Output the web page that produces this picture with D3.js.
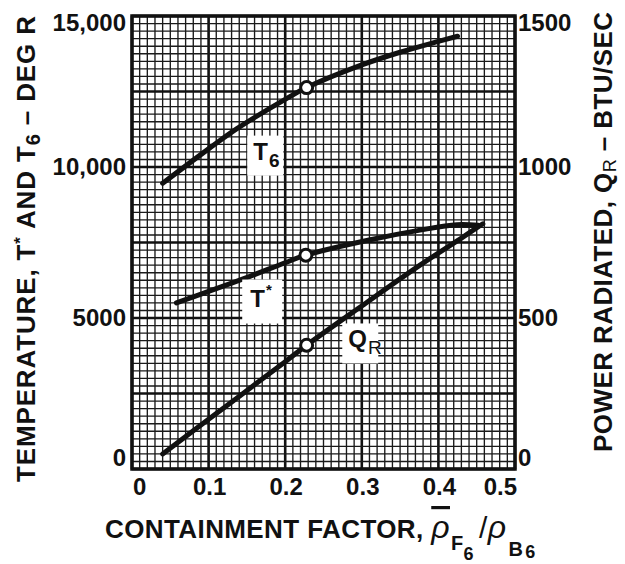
<!DOCTYPE html>
<meta charset="utf-8">
<style>

body {
  margin: 0;
  background: #fff;
}

text {
  font-family: "Liberation Sans", Arial, sans-serif;
  font-weight: bold;
  fill: #111;
}

.grid-minor {
  stroke: #1a1a1a;
  stroke-width: 1.35;
}

.grid-major {
  stroke: #111;
  stroke-width: 2.6;
}

.frame {
  fill: none;
  stroke: #111;
  stroke-width: 3.5;
}

.curve {
  fill: none;
  stroke: #111;
  stroke-width: 5;
  stroke-linecap: round;
  stroke-linejoin: round;
}

.mark {
  fill: #fff;
  stroke: #111;
  stroke-width: 3;
}

.tick-label {
  font-size: 24px;
}

</style>
<body>
<script src="https://cdn.jsdelivr.net/npm/d3@7"></script>
<script>

// containment factor vs temperature (deg R) and power radiated (btu/sec)
var xT6 = [0.04, 0.1, 0.137, 0.2, 0.228, 0.3, 0.35, 0.4, 0.425];
var t6 = [9460, 10600, 11270, 12240, 12630, 13380, 13800, 14160, 14330];

var xTstar = [0.058, 0.1, 0.154, 0.2, 0.227, 0.311, 0.376, 0.424, 0.452];
var tStar = [5500, 5880, 6380, 6830, 7080, 7590, 7910, 8090, 8070];

var xQr = [0.04, 0.1, 0.2, 0.228, 0.3, 0.376, 0.432, 0.458];
var qR = [50, 165, 355, 410, 540, 675, 768, 812];

// open circle on each curve (index into the arrays above)
var markIndex = {t6: 4, tStar: 4, qR: 3};

var xTicks = [0, 0.1, 0.2, 0.3, 0.4, 0.5];
var xTickLabels = ["0", "0.1", "0.2", "0.3", "0.4", "0.5"];
var tTicks = [0, 5000, 10000, 15000];
var tTickLabels = ["0", "5000", "10,000", "15,000"];
var qTicks = [0, 500, 1000, 1500];
var qTickLabels = ["0", "500", "1000", "1500"];

// curve name boxes, in data units (T scale)
var tagNames = ["T6", "T*", "QR"];
var tagX = [0.174, 0.170, 0.298];
var tagT = [10410, 5545, 4190];

var width = 625,
    height = 564;

var x = d3.scaleLinear()
    .domain([0, 0.5])
    .range([132, 515]);

var y = d3.scaleLinear()
    .domain([0, 15000])
    .range([469, 16]);

var yQ = d3.scaleLinear()
    .domain([0, 1500])
    .range([469, 16]);

var svg = d3.select("body").append("svg")
    .attr("width", width)
    .attr("height", height);

// graph paper
var gx = d3.range(51).map(function(i) { return i / 100; });
var gy = d3.range(61).map(function(i) { return i * 250; });

var grid = svg.append("g");

grid.selectAll(".vx")
    .data(gx)
  .enter().append("line")
    .attr("class", function(d, i) { return i % 10 ? "grid-minor" : "grid-major"; })
    .attr("x1", x).attr("x2", x)
    .attr("y1", y(15000)).attr("y2", y(0));

grid.selectAll(".hy")
    .data(gy)
  .enter().append("line")
    .attr("class", function(d, i) { return i % 10 ? "grid-minor" : "grid-major"; })
    .attr("y1", y).attr("y2", y)
    .attr("x1", x(0)).attr("x2", x(0.5));

svg.append("rect")
    .attr("class", "frame")
    .attr("x", x(0))
    .attr("y", y(15000))
    .attr("width", x(0.5) - x(0))
    .attr("height", y(0) - y(15000));

// curves
var lineT = d3.line()
    .curve(d3.curveCatmullRom.alpha(0.5))
    .x(function(d) { return x(d[0]); })
    .y(function(d) { return y(d[1]); });

var lineQ = d3.line()
    .curve(d3.curveCatmullRom.alpha(0.5))
    .x(function(d) { return x(d[0]); })
    .y(function(d) { return yQ(d[1]); });

var t6Pts = d3.zip(xT6, t6),
    tStarPts = d3.zip(xTstar, tStar),
    qRPts = d3.zip(xQr, qR);

svg.append("path").attr("class", "curve").attr("d", lineT(t6Pts));
svg.append("path").attr("class", "curve").attr("d", lineT(tStarPts));
svg.append("path").attr("class", "curve").attr("d", lineQ(qRPts));

var marks = [
  [x(t6Pts[markIndex.t6][0]), y(t6Pts[markIndex.t6][1])],
  [x(tStarPts[markIndex.tStar][0]), y(tStarPts[markIndex.tStar][1])],
  [x(qRPts[markIndex.qR][0]), yQ(qRPts[markIndex.qR][1])]
];

svg.selectAll(".mark")
    .data(marks)
  .enter().append("circle")
    .attr("class", "mark")
    .attr("cx", function(d) { return d[0]; })
    .attr("cy", function(d) { return d[1]; })
    .attr("r", 6);

// curve tags
var tag = svg.selectAll(".tag")
    .data(tagNames)
  .enter().append("g")
    .attr("class", "tag")
    .attr("transform", function(d, i) { return "translate(" + x(tagX[i]) + "," + y(tagT[i]) + ")"; });

tag.append("rect")
    .attr("x", function(d) { return d == "T*" ? -20 : -18; })
    .attr("y", function(d) { return d == "T*" ? -22 : -19; })
    .attr("width", function(d) { return d == "T*" ? 40 : 36; })
    .attr("height", function(d) { return d == "T*" ? 44 : 40; })
    .style("fill", "#fff");

var tagText = tag.append("text")
    .attr("x", -12)
    .attr("y", 5)
    .style("font-size", "24px");

tagText.append("tspan")
    .text(function(d) { return d.charAt(0); });

tagText.append("tspan")
    .attr("dx", 1)
    .attr("dy", function(d) { return d == "T*" ? -12 : 7; })
    .style("font-size", function(d) { return d == "T*" ? "15px" : "19px"; })
    .style("font-weight", function(d) { return d == "QR" ? "normal" : "bold"; })
    .text(function(d) { return d.charAt(1); });

// tick labels
svg.selectAll(".xt")
    .data(xTicks)
  .enter().append("text")
    .attr("class", "tick-label")
    .attr("x", function(d, i) { return i == 0 ? x(d) + 1 : i == xTicks.length - 1 ? x(d) + 2 : x(d) + 1; })
    .attr("y", 495)
    .attr("text-anchor", function(d, i) { return i == 0 ? "start" : i == xTicks.length - 1 ? "end" : "middle"; })
    .text(function(d, i) { return xTickLabels[i]; });

function edgeShift(i, n) {
  return i == 0 ? -3 : i == n - 1 ? 15 : 8;
}

svg.selectAll(".lt")
    .data(tTicks)
  .enter().append("text")
    .attr("class", "tick-label")
    .attr("x", 126)
    .attr("y", function(d, i) { return y(d) + edgeShift(i, tTicks.length); })
    .attr("text-anchor", "end")
    .text(function(d, i) { return tTickLabels[i]; });

svg.selectAll(".rt")
    .data(qTicks)
  .enter().append("text")
    .attr("class", "tick-label")
    .attr("x", 518)
    .attr("y", function(d, i) { return yQ(d) + edgeShift(i, qTicks.length); })
    .attr("text-anchor", "start")
    .text(function(d, i) { return qTickLabels[i]; });

// axis titles
var left = svg.append("text")
    .attr("transform", "translate(35,249) rotate(-90)")
    .attr("text-anchor", "middle")
    .attr("textLength", 466)
    .attr("lengthAdjust", "spacing")
    .style("font-size", "26px");

left.append("tspan").text("TEMPERATURE, T");
left.append("tspan").attr("dy", -9).style("font-size", "17px").text("*");
left.append("tspan").attr("dy", 9).text(" AND T");
left.append("tspan").attr("dy", 5).style("font-size", "20px").text("6");
left.append("tspan").attr("dy", -5).text(" \u2013 DEG R");

var right = svg.append("text")
    .attr("transform", "translate(612,232) rotate(-90)")
    .attr("text-anchor", "middle")
    .attr("textLength", 440)
    .attr("lengthAdjust", "spacing")
    .style("font-size", "26px");

right.append("tspan").text("POWER RADIATED, Q");
right.append("tspan").attr("dy", 4).style("font-size", "18px").style("font-weight", "normal").text("R");
right.append("tspan").attr("dy", -4).text(" \u2013 BTU/SEC");

var bottom = svg.append("text")
    .attr("x", 105)
    .attr("y", 538)
    .style("font-size", "26px")
    .style("letter-spacing", "0.4px");

bottom.append("tspan").text("CONTAINMENT FACTOR, ");
bottom.append("tspan")
    .style("font-style", "italic")
    .style("font-weight", "normal")
    .style("font-size", "32px")
    .style("text-decoration", "overline")
    .text("\u03c1");
bottom.append("tspan").attr("dy", 12).attr("dx", 1).style("font-size", "20px").text("F");
bottom.append("tspan").attr("dy", 10).style("font-size", "18px").text("6");
bottom.append("tspan").attr("dy", -22).attr("dx", 5).style("font-weight", "normal").style("font-size", "30px").text("/");
bottom.append("tspan")
    .style("font-style", "italic")
    .style("font-weight", "normal")
    .style("font-size", "32px")
    .text("\u03c1");
bottom.append("tspan").attr("dy", 18).attr("dx", 2).style("font-size", "20px").text("B");
bottom.append("tspan").attr("dy", 2).attr("dx", 2).style("font-size", "18px").text("6");

</script>
</body>
